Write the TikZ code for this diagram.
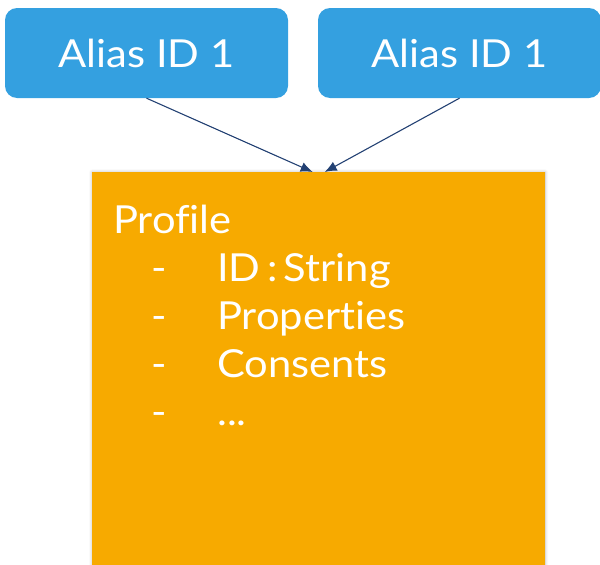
\documentclass[tikz,border=0pt]{standalone}
\usepackage{fontspec}
\setmainfont{Lato}[FakeStretch=1.08,Ligatures=NoCommon]
\usetikzlibrary{arrows.meta,shadows.blur}
\definecolor{aliasblue}{RGB}{52,160,224}
\definecolor{profileorange}{RGB}{247,170,0}
\definecolor{arrownavy}{RGB}{35,65,115}
\begin{document}
\begin{tikzpicture}[x=1pt,y=-1pt,
        alias/.style={fill=aliasblue,rounded corners=12pt,minimum width=283pt,minimum height=90pt,
            text=white,inner sep=0pt,font=\fontsize{38.6}{46}\selectfont},
        profilebox/.style={fill=profileorange,minimum width=453pt,minimum height=400pt,inner sep=0pt,
            blur shadow={shadow xshift=0pt,shadow yshift=0pt,shadow blur radius=3pt,shadow opacity=30}},
        entry/.style={text=white,inner sep=0pt,anchor=base west,font=\fontsize{38.6}{46}\selectfont},
        link/.style={draw=arrownavy,line width=1.1pt,-{Latex[length=12pt,width=10pt]}}]
        \useasboundingbox (0,0) rectangle (600,565);

        \node[alias] (alias1) at (146.5,53) {Alias ID 1};
        \node[alias] (alias2) at (459.5,53) {Alias ID 1};
        \node[profilebox,anchor=north west] (profile) at (92,172) {};

        \node[entry] (title) at (113,233) {Profile};
        \node[entry] (dash1) at (151,281) {-};
        \node[entry] (dash2) at (151,329) {-};
        \node[entry] (dash3) at (151,377) {-};
        \node[entry] (dash4) at (151,425) {-};
        \node[entry] (item1) at (217,281) {ID\,:\,String};
        \node[entry] (item2) at (217,329) {Properties};
        \node[entry] (item3) at (217,377) {Consents};
        \node[entry] (item4) at (217,425) {...};

        \draw[link] (alias1.south) -- ([xshift=-6pt]profile.north);
        \draw[link] (alias2.south) -- ([xshift=6pt]profile.north);
    \end{tikzpicture}
\end{document}
